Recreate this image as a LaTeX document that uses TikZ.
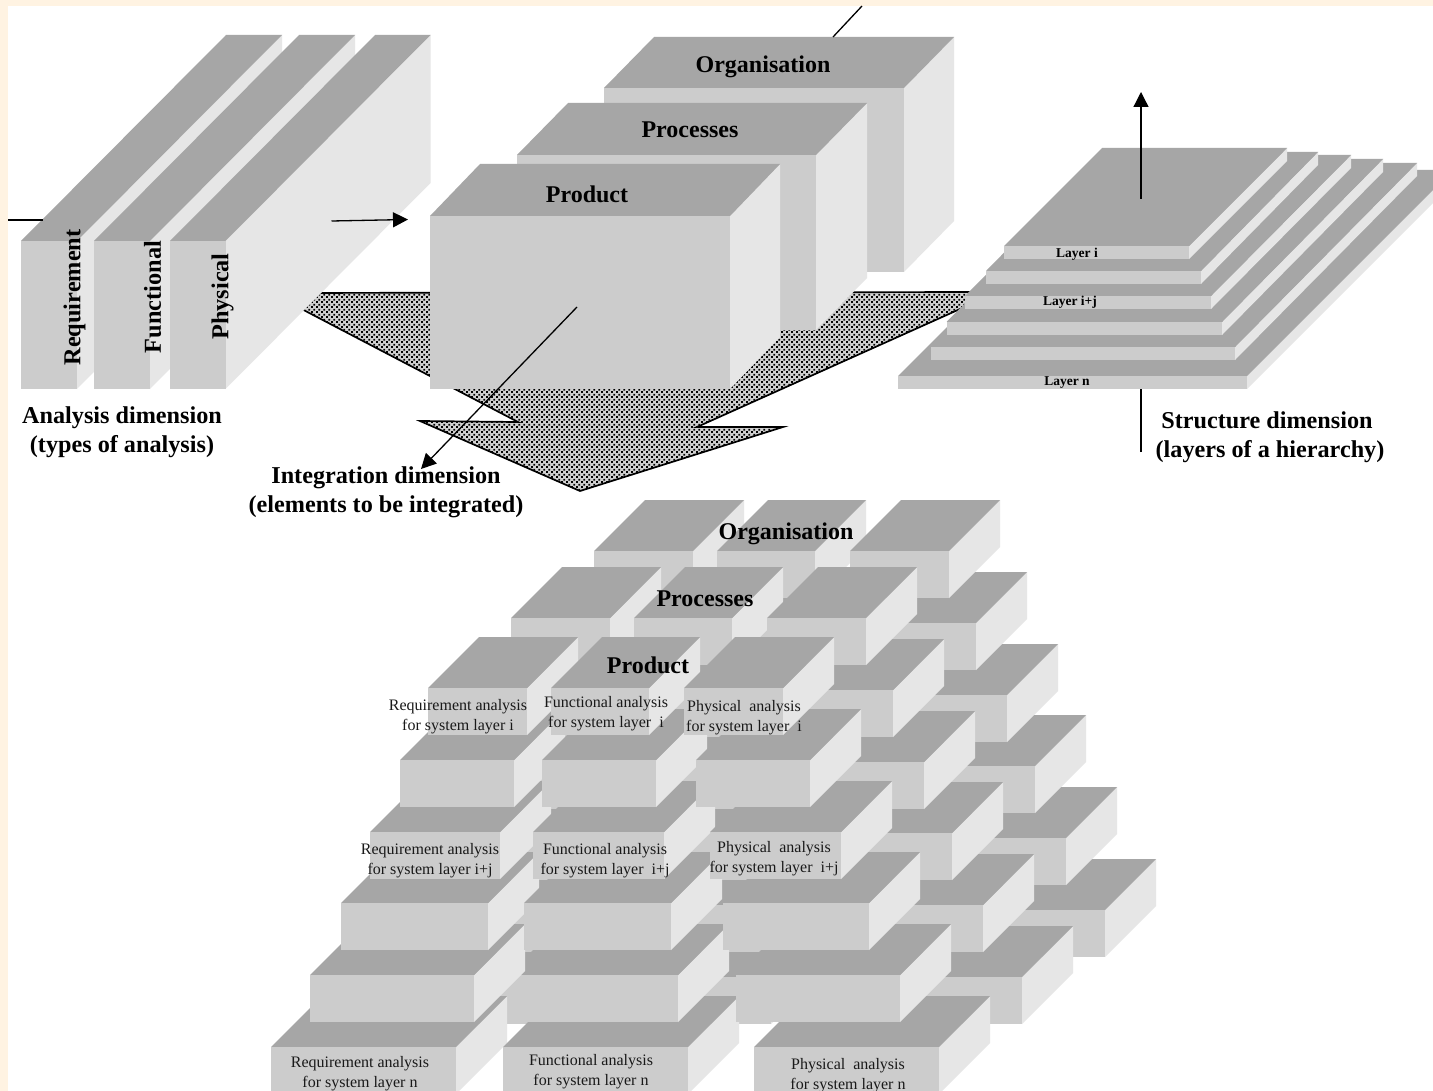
\documentclass[tikz,border=0pt]{standalone}
\usepackage{fontspec}
\setmainfont{Liberation Serif}
\usetikzlibrary{arrows.meta,patterns}
\definecolor{cream}{HTML}{FFF3E2}
\definecolor{topc}{HTML}{A6A6A6}
\definecolor{frontc}{HTML}{CCCCCC}
\definecolor{sidec}{HTML}{E6E6E6}
\definecolor{hatchbg}{HTML}{D0D0D0}
\pgfdeclarepatternformonly{mergedots}{\pgfqpoint{0pt}{0pt}}{\pgfqpoint{4.6pt}{4.6pt}}{\pgfqpoint{4.6pt}{4.6pt}}{%
  \pgfpathrectangle{\pgfqpoint{0.2pt}{0.2pt}}{\pgfqpoint{1.9pt}{1.9pt}}%
  \pgfpathrectangle{\pgfqpoint{2.5pt}{2.5pt}}{\pgfqpoint{1.9pt}{1.9pt}}%
  \pgfusepath{fill}%
}
% xl xr ytop height depth-x depth-y
\newcommand{\cubd}[6]{%
  \fill[sidec] ({#2},{#3}) -- ({#2+#5},{#3-#6}) -- ({#2+#5},{#3-#6+#4}) -- ({#2},{#3+#4}) -- cycle;
  \fill[topc] ({#1},{#3}) -- ({#2},{#3}) -- ({#2+#5},{#3-#6}) -- ({#1+#5},{#3-#6}) -- cycle;
  \fill[frontc] ({#1},{#3}) rectangle ({#2},{#3+#4});
}
\tikzset{
  axisline/.style={black,line width=1.3pt},
  axisarrow/.style={black,line width=1.3pt,-{Triangle[length=15pt,width=15pt]}},
  mergeshape/.style={draw=black,line width=1.7pt,miter limit=20},
  dimlabel/.style={font=\fontsize{24.2}{29}\selectfont\bfseries,align=center,inner sep=0pt,text=black},
  planelabel/.style={font=\fontsize{24}{28}\selectfont\bfseries,inner sep=0pt,text=black},
  sidelabel/.style={font=\fontsize{24.3}{28}\selectfont\bfseries,inner sep=0pt,rotate=90,text=black},
  layerlabel/.style={font=\fontsize{13.5}{16}\selectfont\bfseries,inner sep=0pt,text=black},
  celllabel/.style={font=\fontsize{16}{20}\selectfont,align=center,inner sep=0pt,text=black!90}
}
\begin{document}
\begin{tikzpicture}[x=1pt,y=-1pt]
\useasboundingbox (0,0) rectangle (1433,1091);
\clip (0,0) rectangle (1433,1091);
\fill[cream] (0,0) rectangle (1433,1091);
\fill[white] (8,6) rectangle (1433,1091);

% hatched merge arrow
\path[fill=hatchbg] (271,293) -- (998,292) -- (697,427) -- (783,427) -- (580,491) -- (420,421) -- (518,422) -- cycle;
\path[pattern=mergedots,pattern color=black] (271,293) -- (998,292) -- (697,427) -- (783,427) -- (580,491) -- (420,421) -- (518,422) -- cycle;
\draw[mergeshape] (271,293) -- (998,292) -- (697,427) -- (783,427) -- (580,491) -- (420,421) -- (518,422) -- cycle;

% analysis slabs
\cubd{21}{77}{241}{148}{205}{206}
\cubd{94}{150}{241}{148}{205}{206}
\cubd{170}{225.5}{241}{148}{205}{206}

% integration blocks
\cubd{604}{904}{88}{184}{50}{51}
\cubd{517}{816}{155}{175}{51}{52}
\cubd{430}{730}{216}{173}{50}{52}

% structure layers
\cubd{898}{1247}{376}{13}{206}{206}
\cubd{931}{1235}{347}{13}{182}{184}
\cubd{946.5}{1222}{322}{13}{161}{163}
\cubd{965}{1211}{296}{13}{140}{141}
\cubd{986}{1201}{271}{13}{117}{119}
\cubd{1004}{1189}{246}{13}{98}{98}

% lower grid: Organisation, Processes, Product planes
\foreach \ox/\oy in {166/137,83/70,0/0}{
  \foreach \xl/\xr/\yt in {
    271/456/1047,503/688/1047,754/939/1047,
    508/678/975,310/474/975,736/900/975,
    341/488/903,524/671/903,723/869/903,
    370/500/832,533/664/832,710/841/832,
    400/514/760,542/656/760,696/810/760,
    428/527/688,551/649/688,684/783/688}{
    \cubd{\xl+\ox}{\xr+\ox}{\yt-\oy}{47}{51}{51}
  }
}

% axes
\coordinate (analysisA) at (8,220);
\coordinate (analysisB) at (43,220);
\coordinate (analysisC) at (331.5,221);
\coordinate (analysisD) at (408,219.5);
\draw[axisline] (analysisA) -- (analysisB);
\draw[axisarrow] (analysisC) -- (analysisD);
\coordinate (integA) at (862,6);
\coordinate (integB) at (833,37);
\coordinate (integC) at (577,307);
\coordinate (integD) at (421,469);
\draw[axisline] (integA) -- (integB);
\draw[axisarrow] (integC) -- (integD);
\coordinate (structA) at (1141,452);
\coordinate (structB) at (1141,389);
\coordinate (structC) at (1141,199);
\coordinate (structD) at (1141,92);
\draw[axisline] (structA) -- (structB);
\draw[axisarrow] (structC) -- (structD);

% labels upper
\node[sidelabel] (lreq) at (74.5,297.5) {Requirement};
\node[sidelabel] (lfun) at (152.5,297) {Functional};
\node[sidelabel] (lphy) at (222.5,296.5) {Physical};
\node[planelabel] (uorg) at (763,67) {Organisation};
\node[planelabel] (upro) at (690,130) {Processes};
\node[planelabel] (uprd) at (587,194) {Product};
\node[layerlabel] (li) at (1077,254) {Layer i};
\node[layerlabel] (lij) at (1070,302) {Layer i+j};
\node[layerlabel] (ln) at (1067,383) {Layer n};
\node[dimlabel] (dan) at (122,432.5) {Analysis dimension\\(types of analysis)};
\node[dimlabel] (din) at (386,492.5) {Integration dimension\\(elements to be integrated)};
\node[dimlabel] (dst) at (1270,437.5) {Structure dimension\hspace*{6pt}\\(layers of a hierarchy)};

% labels lower
\node[planelabel] (borg) at (786,534) {Organisation};
\node[planelabel] (bpro) at (705,599) {Processes};
\node[planelabel] (bprd) at (648,665) {Product};
\node[celllabel] (c11) at (458,717) {Requirement analysis\\for system layer i};
\node[celllabel] (c12) at (606,714) {Functional analysis\\for system layer~~i};
\node[celllabel] (c13) at (744,718) {Physical~~analysis\\for system layer~~i};
\node[celllabel] (c21) at (430,860.5) {Requirement analysis\\for system layer i+j};
\node[celllabel] (c22) at (605,860.5) {Functional analysis\\for system layer~~i+j};
\node[celllabel] (c23) at (774,859) {Physical~~analysis\\for system layer~~i+j};
\node[celllabel] (c31) at (360,1073.5) {Requirement analysis\\for system layer n};
\node[celllabel] (c32) at (591,1072) {Functional analysis\\for system layer n};
\node[celllabel] (c33) at (848,1075.5) {Physical~~analysis\\for system layer n};
\end{tikzpicture}
\end{document}
